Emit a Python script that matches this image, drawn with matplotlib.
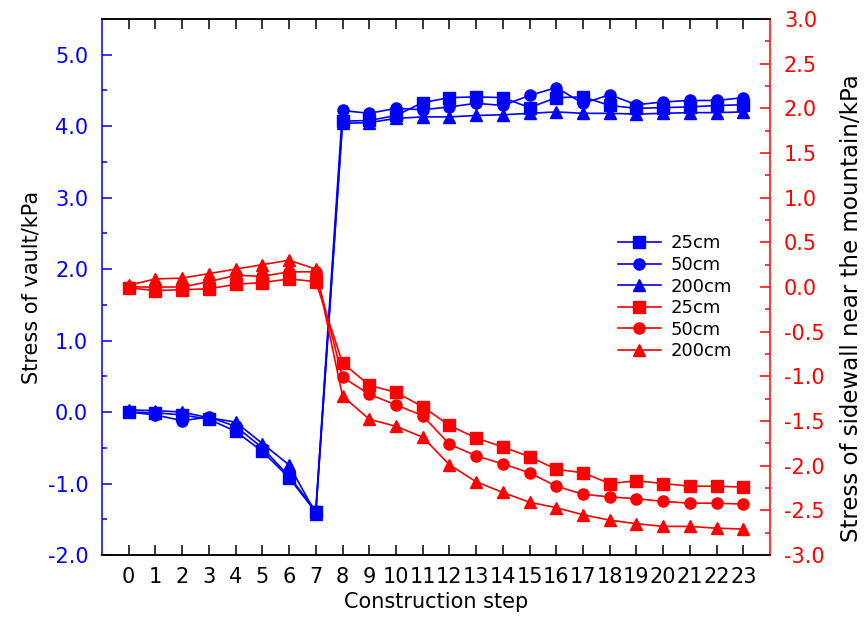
import numpy as np
import matplotlib
matplotlib.use("Agg")
import matplotlib.pyplot as plt
from matplotlib.ticker import MultipleLocator

plt.rcParams['font.family'] = ['DejaVu Sans']

steps = list(range(24))

# vault stress (left axis, kPa)
vault_25 = [0.00, -0.01, -0.04, -0.10, -0.27, -0.55, -0.92, -1.40,
            4.07, 4.08, 4.15, 4.33, 4.40, 4.41, 4.40, 4.26,
            4.40, 4.41, 4.29, 4.25, 4.26, 4.27, 4.29, 4.30]
vault_50 = [0.00, -0.04, -0.12, -0.07, -0.20, -0.50, -0.90, -1.38,
            4.22, 4.18, 4.25, 4.23, 4.27, 4.32, 4.29, 4.43,
            4.54, 4.32, 4.44, 4.30, 4.34, 4.36, 4.36, 4.40]
vault_200 = [0.03, 0.02, 0.00, -0.08, -0.14, -0.44, -0.74, -1.42,
             4.04, 4.05, 4.11, 4.13, 4.13, 4.15, 4.16, 4.18,
             4.20, 4.18, 4.18, 4.17, 4.18, 4.19, 4.19, 4.20]

# sidewall stress near the mountain (right axis, kPa)
wall_25 = [-0.01, -0.04, -0.03, -0.02, 0.03, 0.05, 0.09, 0.06,
           -0.85, -1.10, -1.18, -1.34, -1.55, -1.69, -1.79, -1.90,
           -2.04, -2.08, -2.20, -2.17, -2.20, -2.23, -2.23, -2.24]
wall_50 = [0.00, 0.00, 0.00, 0.06, 0.13, 0.12, 0.17, 0.17,
           -1.01, -1.20, -1.32, -1.44, -1.76, -1.89, -1.98, -2.08,
           -2.23, -2.32, -2.35, -2.37, -2.40, -2.42, -2.42, -2.43]
wall_200 = [0.02, 0.09, 0.10, 0.15, 0.20, 0.25, 0.30, 0.20,
            -1.22, -1.48, -1.56, -1.68, -1.99, -2.18, -2.30, -2.41,
            -2.47, -2.55, -2.61, -2.65, -2.68, -2.68, -2.70, -2.71]

labels = ['25cm', '50cm', '200cm']
markers = ['s', 'o', '^']

fig = plt.figure(figsize=(8.66, 6.17), dpi=100)
ax = fig.add_axes([0.1178, 0.1005, 0.7714, 0.8687])
ax2 = ax.twinx()

lines = []
for y, m, lab in zip([vault_25, vault_50, vault_200], markers, labels):
    l, = ax.plot(steps, y, color='#0000ff', marker=m, markersize=8, linewidth=1.2, label=lab)
    lines.append(l)
for y, m, lab in zip([wall_25, wall_50, wall_200], markers, labels):
    l, = ax2.plot(steps, y, color='#ff0000', marker=m, markersize=8, linewidth=1.2, label=lab)
    lines.append(l)

ax.set_xlim(-1, 24)
ax.set_ylim(-2.0, 5.5)
ax2.set_ylim(-3.0, 3.0)
ax.set_xticks(steps)
ax.yaxis.set_major_locator(MultipleLocator(1.0))
ax.yaxis.set_minor_locator(MultipleLocator(0.5))
ax2.yaxis.set_major_locator(MultipleLocator(0.5))
ax2.yaxis.set_minor_locator(MultipleLocator(0.25))
ax.yaxis.set_major_formatter(matplotlib.ticker.FormatStrFormatter('%.1f'))
ax2.yaxis.set_major_formatter(matplotlib.ticker.FormatStrFormatter('%.1f'))

fs = 15
ax.tick_params(axis='x', which='major', direction='in', top=True, length=7, width=1.1,
               labelsize=fs, color='black', pad=9)
ax.tick_params(axis='y', which='major', direction='in', length=7, width=1.1,
               labelsize=fs, colors='#0000ff', pad=10)
ax.tick_params(axis='y', which='minor', direction='in', length=3.5, width=1.1, colors='#0000ff')
ax2.tick_params(axis='y', which='major', direction='in', length=7, width=1.1,
                labelsize=fs, colors='#ff0000', pad=10)
ax2.tick_params(axis='y', which='minor', direction='in', length=3.5, width=1.1, colors='#ff0000')

for a in (ax, ax2):
    for s in a.spines.values():
        s.set_linewidth(1.1)
ax.spines['left'].set_color('#0000ff')
ax2.spines['left'].set_visible(False)
ax2.spines['right'].set_color('#ff0000')
ax.spines['right'].set_visible(False)

ax.set_xlabel('Construction step', fontsize=fs, labelpad=3)
ax.set_ylabel('Stress of vault/kPa', fontsize=fs, labelpad=4)
ax2.set_ylabel('Stress of sidewall near the mountain/kPa', fontsize=16.5, labelpad=11)
ax2.yaxis.label.set_y(0.46)

fig.legend(handles=lines, labels=[l.get_label() for l in lines], loc='upper left',
           bbox_to_anchor=(0.705, 0.632), frameon=False, fontsize=13,
           handlelength=2.4, labelspacing=0.2, handletextpad=0.55, borderaxespad=0)

fig.savefig('out.png', dpi=100)
